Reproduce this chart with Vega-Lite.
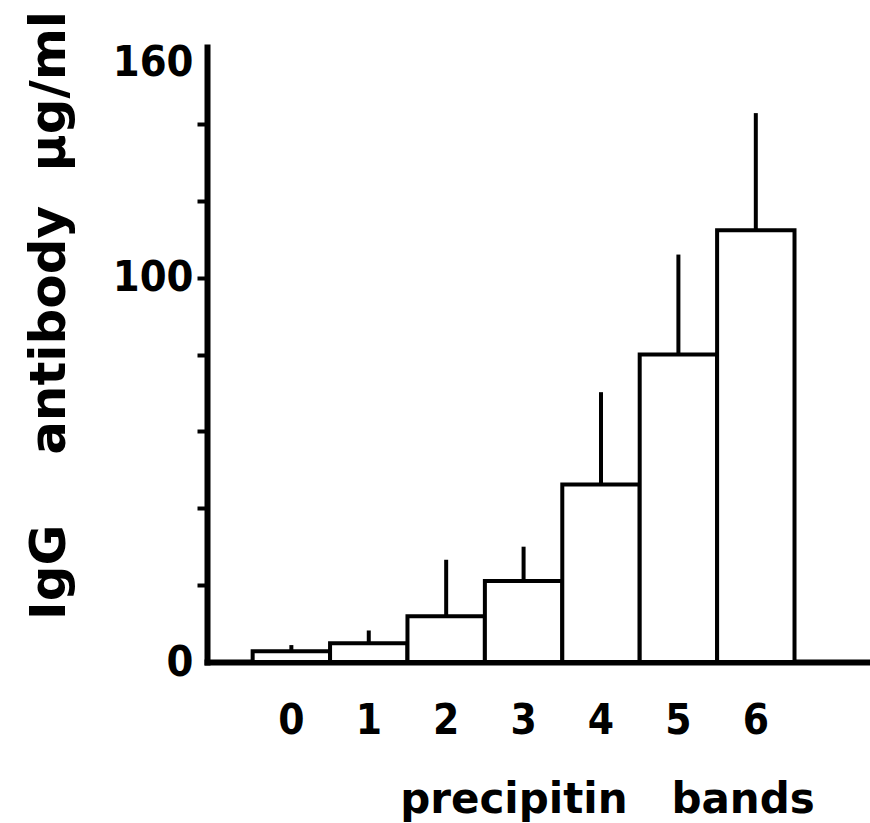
{
  "$schema": "https://vega.github.io/schema/vega-lite/v6.json",
  "autosize": {"type": "none"},
  "width": 662,
  "height": 615,
  "padding": {"left": 207, "top": 47, "right": 1, "bottom": 161},
  "background": "white",
  "config": {"view": {"stroke": null}},
  "data": {
    "values": [
      {"bands": "0", "mean": 2.8, "upper": 4.4},
      {"bands": "1", "mean": 4.9, "upper": 8.2},
      {"bands": "2", "mean": 11.9, "upper": 26.6},
      {"bands": "3", "mean": 21.1, "upper": 30},
      {"bands": "4", "mean": 46.2, "upper": 70.2},
      {"bands": "5", "mean": 80, "upper": 106},
      {"bands": "6", "mean": 112.3, "upper": 142.8}
    ]
  },
  "encoding": {
    "x": {
      "field": "bands",
      "type": "ordinal",
      "sort": null,
      "scale": {"paddingInner": 0, "paddingOuter": 0.776, "align": 0.38},
      "axis": {
        "title": "precipitin\u00a0\u00a0\u00a0bands",
        "titleFont": "DejaVu Sans",
        "titleFontWeight": "bold",
        "titleFontSize": 42,
        "titleColor": "black",
        "titleX": 400,
        "titleY": 150,
        "titleAlign": "center",
        "titleAnchor": null,
        "titleBaseline": "alphabetic",
        "labelAngle": 0,
        "labelFont": "Liberation Sans Narrow, DejaVu Sans Condensed",
        "labelFontWeight": "bold",
        "labelFontSize": 42,
        "labelColor": "black",
        "labelPadding": 38,
        "labelBaseline": "top",
        "ticks": false,
        "domainColor": "black",
        "domainWidth": 6,
        "domainCap": "square"
      }
    }
  },
  "layer": [
    {
      "mark": {"type": "bar", "fill": "white", "stroke": "black", "strokeWidth": 4},
      "encoding": {
        "y": {
          "field": "mean",
          "type": "quantitative",
          "scale": {"domain": [0, 160], "nice": false, "zero": true},
          "axis": {
            "values": [0, 20, 40, 60, 80, 100, 120, 140, 160],
            "labelExpr": "datum.value == 0 || datum.value == 100 || datum.value == 160 ? datum.label : ''",
            "grid": false,
            "title": "IgG\u00a0\u00a0\u00a0\u00a0antibody\u00a0\u00a0µg/ml",
            "titleFont": "DejaVu Sans",
            "titleFontWeight": "bold",
            "titleFontSize": 50,
            "titleColor": "black",
            "titleAngle": -90,
            "titleX": -143,
            "titleY": 268,
            "titleAlign": "center",
            "titleAnchor": null,
            "titleBaseline": "alphabetic",
            "labelFont": "Liberation Sans Narrow, DejaVu Sans Condensed",
            "labelFontWeight": "bold",
            "labelFontSize": 43,
            "labelColor": "black",
            "labelPadding": 4,
            "labelFlush": false,
            "labelOverlap": false,
            "labelOffset": {"condition": {"test": "datum.value == 160", "value": 15}, "value": 0},
            "tickSize": 10,
            "tickWidth": 4,
            "tickColor": "black",
            "tickOpacity": {"condition": {"test": "datum.value == 0 || datum.value == 160", "value": 0}, "value": 1},
            "domainColor": "black",
            "domainWidth": 6,
            "domainCap": "square"
          }
        }
      }
    },
    {
      "mark": {"type": "rule", "stroke": "black", "strokeWidth": 4},
      "encoding": {
        "y": {"field": "mean", "type": "quantitative"},
        "y2": {"field": "upper"}
      }
    }
  ]
}
